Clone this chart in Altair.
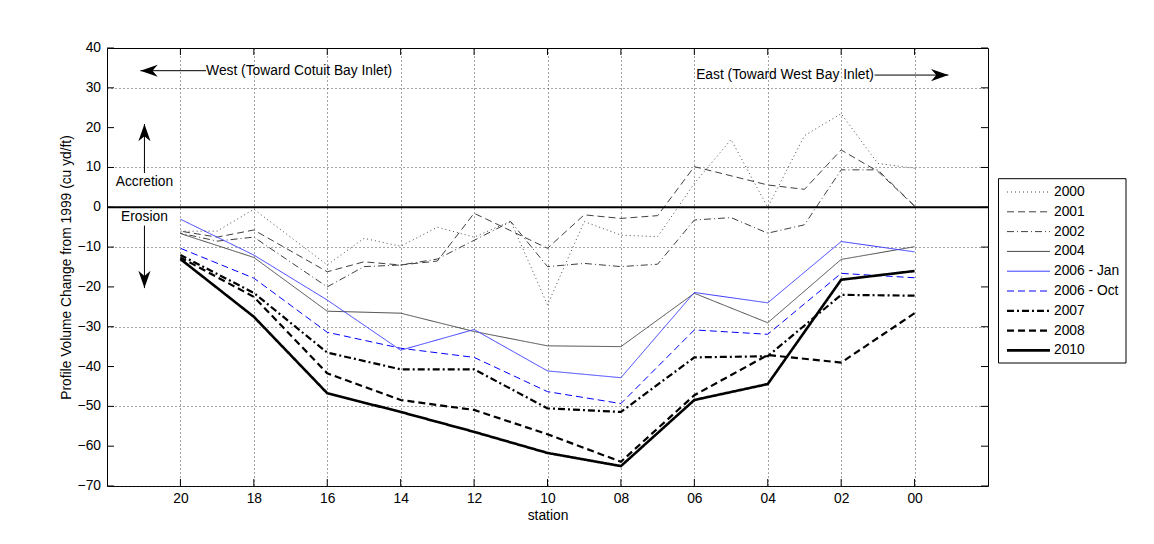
import altair as alt
import pandas as pd

FONT = "Liberation Sans"
FS = 13.8

# ---------------- data ----------------
series_names = ["2000", "2001", "2002", "2004", "2006 - Jan", "2006 - Oct", "2007", "2008", "2010"]

st_2000 = [20, 19, 18, 16, 15, 14, 13, 12, 11, 10, 9, 8, 7, 6, 5, 4, 3, 2, 1, 0]
v_2000 = [-6, -6, -0.5, -14.5, -7.8, -9.8, -5, -7.5, -3.5, -24.5, -3.6, -7, -7.4, 6, 17, 0, 18, 23.5, 11, 9.8]

st_2001 = [20, 19, 18, 16, 15, 14, 13, 12, 10, 9, 8, 7, 6, 4, 3, 2, 1, 0]
v_2001 = [-6, -7.5, -5.7, -16.2, -13.7, -14.5, -13.5, -1.5, -10.3, -1.9, -2.8, -2.1, 10.2, 5.6, 4.5, 14.4, 9, 0.3]

st_2002 = [20, 19, 18, 16, 15, 14, 13, 11, 10, 9, 8, 7, 6, 5, 4, 3, 2, 1, 0]
v_2002 = [-6.5, -8.5, -7.5, -20, -14.9, -14.5, -13, -3.6, -14.9, -14.1, -14.9, -14.3, -3.2, -2.6, -6.5, -4.4, 9.4, 9.4, 0.3]

st_even = [20, 18, 16, 14, 12, 10, 8, 6, 4, 2, 0]
v_2004 = [-6.6, -12.6, -26.1, -26.6, -31.2, -34.8, -35.0, -21.6, -29.0, -13.1, -9.9]
v_2006jan = [-3.0, -12.0, -23.3, -35.9, -30.7, -41.1, -42.8, -21.4, -24.0, -8.6, -11.2]
v_2006oct = [-10.3, -17.8, -31.4, -35.4, -37.7, -46.3, -49.3, -30.8, -31.9, -16.6, -17.7]
v_2007 = [-12.0, -21.5, -36.5, -40.7, -40.7, -50.5, -51.4, -37.7, -37.4, -22.0, -22.2]
v_2008 = [-12.6, -22.5, -41.7, -48.4, -50.9, -57.0, -63.9, -47.2, -37.1, -39.0, -26.6]
v_2010 = [-13.0, -27.5, -46.7, -51.4, -56.4, -61.7, -65.0, -48.4, -44.4, -18.2, -16.0]

x_ticks = [20, 18, 16, 14, 12, 10, 8, 6, 4, 2, 0]
y_ticks = [-70, -60, -50, -40, -30, -20, -10, 0, 10, 20, 30, 40]

# annotation texts
ann_text = ["West (Toward Cotuit Bay Inlet)", "East (Toward West Bay Inlet)"]
ann_x = [19.3, 5.95]
ann_y = [34.3, 33.2]
side_text = ["Accretion", "Erosion"]
side_x = [20.98, 20.98]
side_y = [6.4, -2.4]

# arrows: shaft start, shaft end (tip)
arr_x1 = [19.3, 1.09, 20.98, 20.98]
arr_x2 = [21.09, -0.92, 20.98, 20.98]
arr_y1 = [34.3, 33.2, 8.6, -4.6]
arr_y2 = [34.3, 33.2, 20.9, -20.3]
arr_angle = [180, 0, 270, 90]

# ---------------- styling ----------------
colors = ["#4a4a4a", "#404040", "#404040", "#484848", "#3a3aff", "#0000ff", "#000000", "#000000", "#000000"]
dashes = [[1, 3], [7, 4], [7, 3, 1, 3], [1, 0], [1, 0], [7, 4], [7, 3, 2, 3], [7, 4], [1, 0]]
widths = [1, 1, 1, 1, 1, 1, 2.2, 2.2, 2.6]

rows = []
def add(name, sts, vals):
    for s, v in zip(sts, vals):
        rows.append({"series": name, "station": s, "value": v})

add("2000", st_2000, v_2000)
add("2001", st_2001, v_2001)
add("2002", st_2002, v_2002)
add("2004", st_even, v_2004)
add("2006 - Jan", st_even, v_2006jan)
add("2006 - Oct", st_even, v_2006oct)
add("2007", st_even, v_2007)
add("2008", st_even, v_2008)
add("2010", st_even, v_2010)
df = pd.DataFrame(rows)

W, H = 881, 438
xscale = alt.Scale(domain=[22, -2], nice=False, zero=False)
yscale = alt.Scale(domain=[-70, 40], nice=False, zero=False)

x_axis = alt.Axis(values=x_ticks, labelExpr="datum.value < 10 ? '0' + datum.value : '' + datum.value",
                  title="station", grid=True, gridDash=[1, 3], gridColor="#333333", gridOpacity=0.9,
                  domain=False, ticks=False, labelPadding=5, titlePadding=4, labelOverlap=False,
                  labelFont=FONT, labelFontSize=FS, titleFont=FONT, titleFontSize=FS,
                  titleFontWeight="normal", labelColor="black", titleColor="black")
y_axis = alt.Axis(values=y_ticks, title="Profile Volume Change from 1999 (cu yd/ft)",
                  grid=True, gridDash=[1, 3], gridColor="#333333", gridOpacity=0.9,
                  domain=False, ticks=False, labels=False, titlePadding=34,
                  titleFont=FONT, titleFontSize=FS,
                  titleFontWeight="normal", titleColor="black")

lines = alt.Chart(df).mark_line(clip=True).encode(
    x=alt.X("station:Q", scale=xscale, axis=x_axis),
    y=alt.Y("value:Q", scale=yscale, axis=y_axis),
    color=alt.Color("series:N", scale=alt.Scale(domain=series_names, range=colors), legend=None),
    strokeDash=alt.StrokeDash("series:N", scale=alt.Scale(domain=series_names, range=dashes), legend=None),
    strokeWidth=alt.StrokeWidth("series:N", scale=alt.Scale(type="ordinal", domain=series_names, range=widths),
                                legend=None),
    order=alt.Order("station:Q"),
)

zero = alt.Chart(pd.DataFrame({"y": [0]})).mark_rule(color="black", strokeWidth=2).encode(
    y=alt.Y("y:Q", scale=yscale))

xt = pd.DataFrame({"t": x_ticks})
yt = pd.DataFrame({"t": y_ticks})
tick_bot = alt.Chart(xt).mark_rule(color="black").encode(
    x=alt.X("t:Q", scale=xscale), y=alt.value(H), y2=alt.value(H - 7))
tick_top = alt.Chart(xt).mark_rule(color="black").encode(
    x=alt.X("t:Q", scale=xscale), y=alt.value(0), y2=alt.value(7))
tick_left = alt.Chart(yt).mark_rule(color="black").encode(
    y=alt.Y("t:Q", scale=yscale), x=alt.value(0), x2=alt.value(7))
tick_right = alt.Chart(yt).mark_rule(color="black").encode(
    y=alt.Y("t:Q", scale=yscale), x=alt.value(W - 7), x2=alt.value(W))
ylabels = alt.Chart(yt).mark_text(align="right", baseline="middle", font=FONT, fontSize=FS, color="black").encode(
    y=alt.Y("t:Q", scale=yscale), x=alt.value(-6), text=alt.Text("t:Q", format="d"))

ann_df = pd.DataFrame({"text": ann_text, "x": ann_x, "y": ann_y})
ann = alt.Chart(ann_df).mark_text(align="left", baseline="middle", font=FONT, fontSize=FS, color="black").encode(
    x=alt.X("x:Q", scale=xscale), y=alt.Y("y:Q", scale=yscale), text="text:N")

side_df = pd.DataFrame({"text": side_text, "x": side_x, "y": side_y})
side = alt.Chart(side_df).mark_text(align="center", baseline="middle", font=FONT, fontSize=FS, color="black").encode(
    x=alt.X("x:Q", scale=xscale), y=alt.Y("y:Q", scale=yscale), text="text:N")

arr_df = pd.DataFrame({"x1": arr_x1, "x2": arr_x2, "y1": arr_y1, "y2": arr_y2, "angle": arr_angle})
shafts = alt.Chart(arr_df).mark_rule(color="black", strokeWidth=1).encode(
    x=alt.X("x1:Q", scale=xscale), x2="x2:Q",
    y=alt.Y("y1:Q", scale=yscale), y2="y2:Q")
heads = alt.Chart(arr_df).mark_point(
    shape="M0,0 L-2,-0.7 L-1.4,0 L-2,0.7 Z", filled=True, color="black", size=300, opacity=1
).encode(
    x=alt.X("x2:Q", scale=xscale), y=alt.Y("y2:Q", scale=yscale),
    angle=alt.Angle("angle:Q", scale=None))

# ---------------- manual legend (pixel layout inside plot coords) ----------------
LX0, LX1, LY0, LY1 = 891.5, 1019, 130.7, 315
ROW0, ROWSTEP = 144, 19.8
SYM0, SYM1, TXT = 900, 943, 947

box = alt.Chart(pd.DataFrame({"a": [0]})).mark_rect(fill="white", stroke="black", strokeWidth=1).encode(
    x=alt.value(LX0), x2=alt.value(LX1), y=alt.value(LY0), y2=alt.value(LY1))
legend_layers = [box]
for i, name in enumerate(series_names):
    ry = ROW0 + i * ROWSTEP
    one = pd.DataFrame({"series": [name]})
    legend_layers.append(
        alt.Chart(one).mark_rule(color=colors[i], strokeDash=dashes[i], strokeWidth=widths[i]).encode(
            x=alt.value(SYM0), x2=alt.value(SYM1), y=alt.value(ry))
    )
    legend_layers.append(
        alt.Chart(one).mark_text(align="left", baseline="middle", font=FONT, fontSize=FS, color="black").encode(
            x=alt.value(TXT), y=alt.value(ry), text="series:N")
    )

chart = alt.layer(lines, zero, tick_bot, tick_top, tick_left, tick_right, ylabels, ann, side, shafts, heads,
                  *legend_layers).properties(
    width=W, height=H,
    autosize=alt.AutoSizeParams(type="none"),
    padding={"left": 99, "top": 40, "right": 150, "bottom": 40},
    background="white",
).configure_view(stroke="black", strokeWidth=1)

chart.save("out.html", embed_options={"renderer": "svg", "actions": False})
